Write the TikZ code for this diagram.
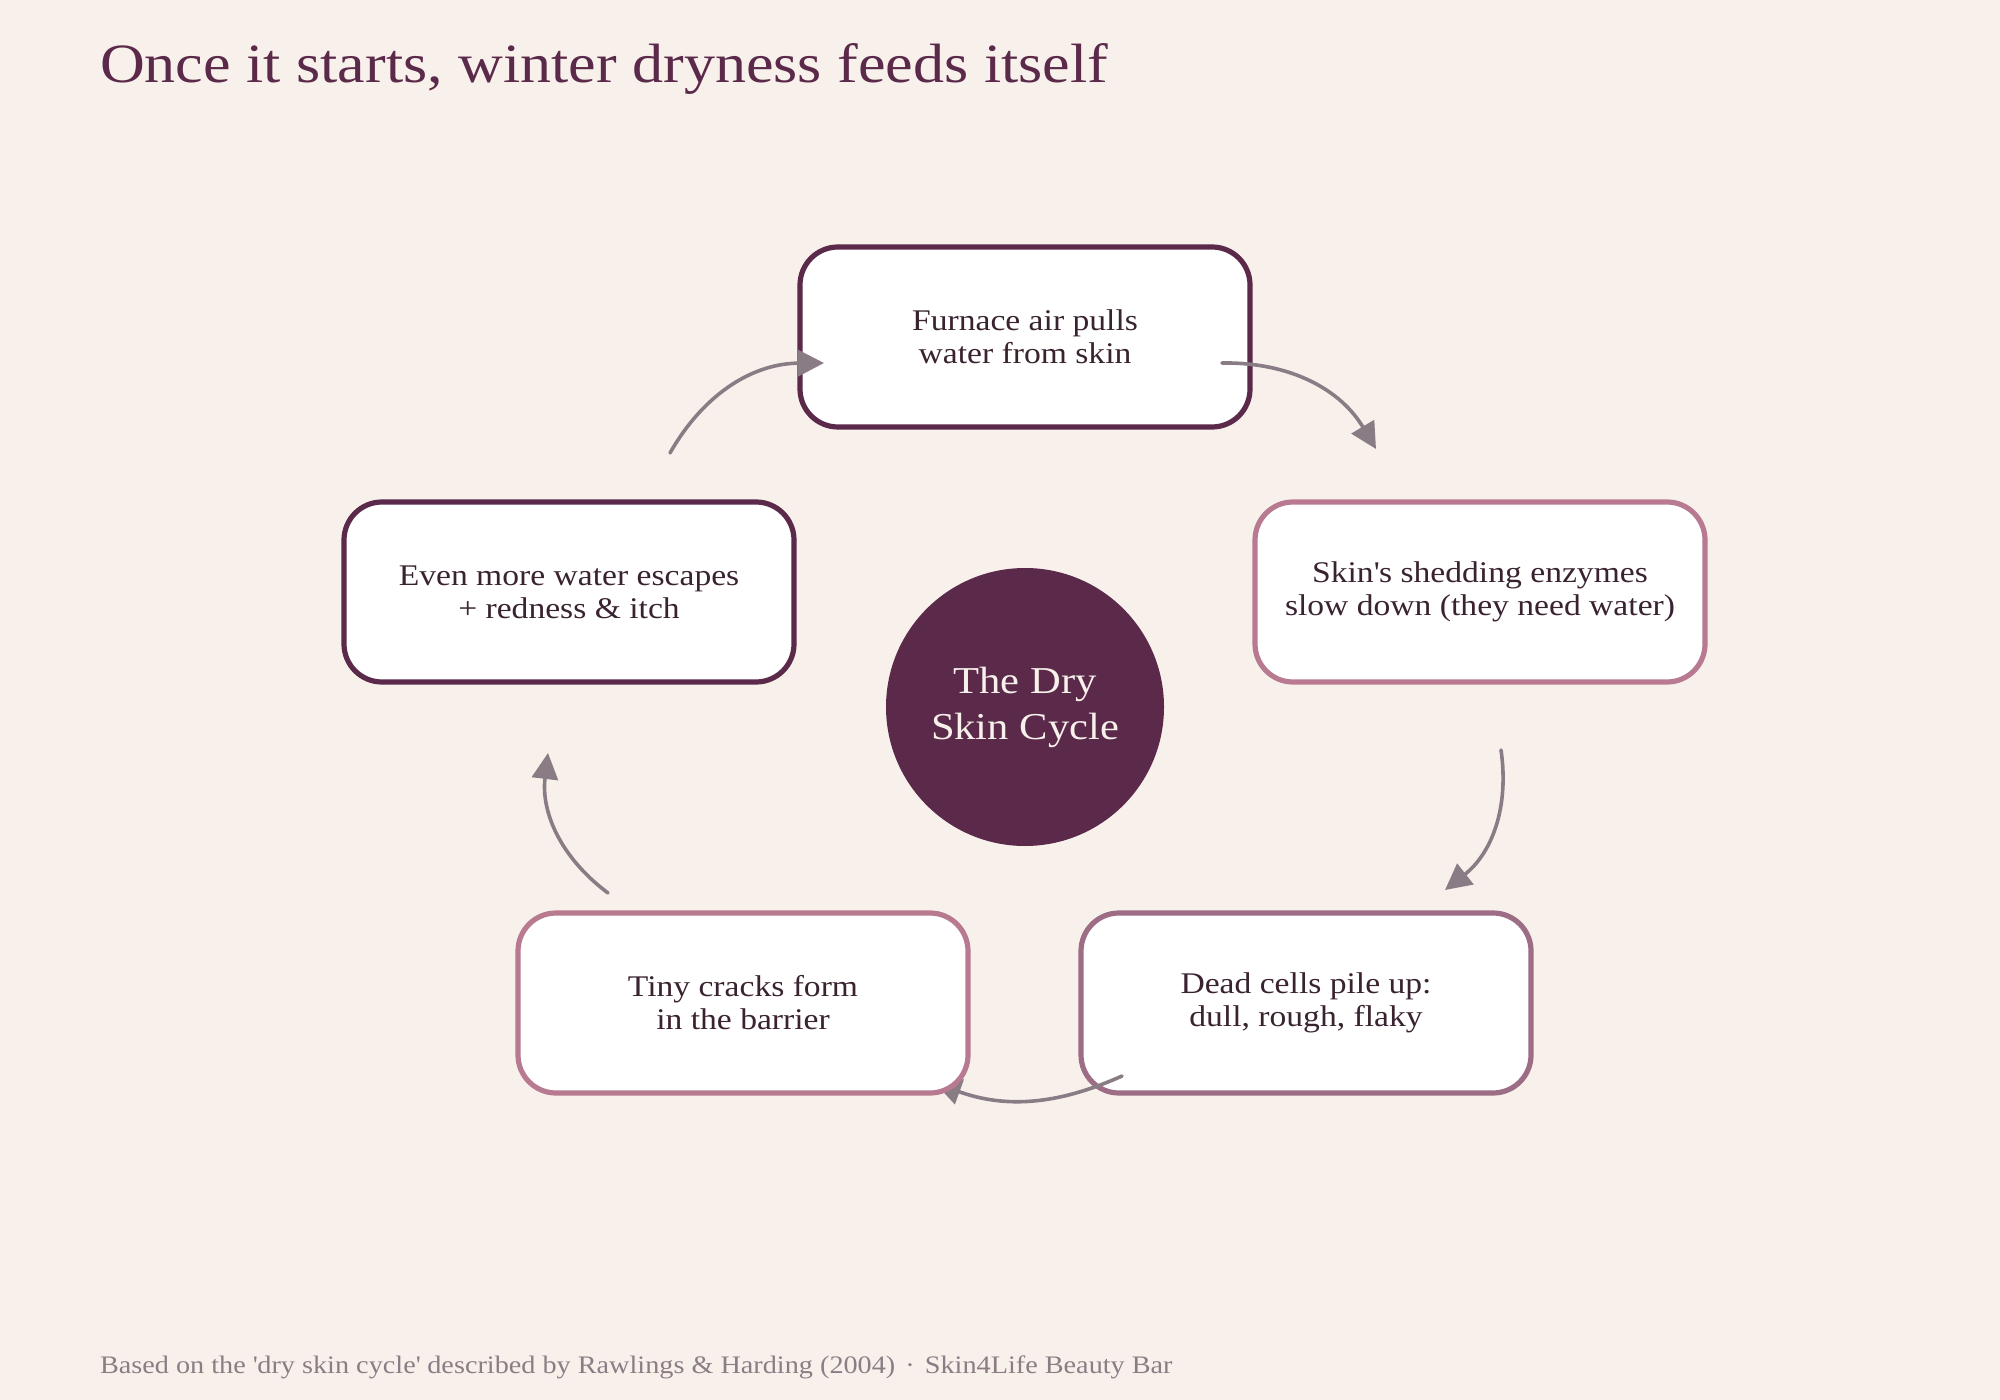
\documentclass[tikz,border=0pt]{standalone}
\usepackage{fontspec}
\setmainfont{Liberation Serif}[FakeStretch=1.12]
\usetikzlibrary{arrows.meta,shapes,positioning}
\definecolor{paper}{HTML}{F8F1EB}
\definecolor{plum}{HTML}{5B2949}
\definecolor{rose}{HTML}{B87A90}
\definecolor{mauve}{HTML}{9D6C85}
\definecolor{ink}{HTML}{3A2330}
\definecolor{arrowgray}{HTML}{8A7C85}
\definecolor{notegray}{HTML}{8C7D85}
\tikzset{stage/.style={shape=rectangle, rounded corners=19pt, draw, line width=2.6pt,
    fill=white, minimum width=225pt, minimum height=90pt, align=center, text=ink,
    font=\fontsize{15}{16.5}\selectfont}}
\tikzset{hub/.style={shape=circle, fill=plum, minimum size=139pt, inner sep=0pt,
    align=center, text=paper, font=\fontsize{19}{23}\selectfont}}
\tikzset{loop/.style={-{Triangle[length=13pt,width=13pt]}, draw=arrowgray,
    line width=1.8pt, line cap=round, bend left=30}}

\begin{document}
\begin{tikzpicture}[x=.5pt, y=-.5pt]
    \fill[paper] (0,0) rectangle (2000,1400);
    \useasboundingbox (0,0) rectangle (2000,1400);
    \node[anchor=base west, text=plum, font=\fontsize{27.7}{32}\selectfont] (title)
        at (93,83) {Once it starts, winter dryness feeds itself};
    \node[hub] (hub) at (1025,707) {The Dry\\Skin Cycle};
    % arrow ends
    \coordinate (a1) at (1222,363);  \coordinate (b1) at (1376,449);
    \coordinate (a2) at (1501,750);  \coordinate (b2) at (1445,890);
    \coordinate (a3) at (1122,1076); \coordinate (b3) at (935,1083);
    \coordinate (a4) at (608,893);   \coordinate (b4) at (548,753);
    \coordinate (a5) at (670,453);   \coordinate (b5) at (824,363);
    % stages, clockwise from the top
    \node[stage, draw=plum] (furnace) at (1025,337) {Furnace air pulls\\water from skin};
    \draw[loop] (a1) to (b1);
    \node[stage, draw=rose] (enzymes) at (1480,592) {Skin\textquotesingle s shedding enzymes\\slow down (they need water)};
    \draw[loop] (a2) to (b2);
    \node[stage, draw=mauve] (cells) at (1306,1003) {Dead cells pile up:\\dull, rough, flaky};
    \draw[loop, bend left=22] (a3) to (b3);
    \node[stage, draw=rose] (cracks) at (743,1003) {Tiny cracks form\\in the barrier};
    \draw[loop] (a4) to (b4);
    \node[stage, draw=plum] (escape) at (569,592) {Even more water escapes\\+ redness \& itch};
    \draw[loop] (a5) to (b5);
    \node[anchor=base west, text=notegray, font=\fontsize{12.6}{15}\selectfont] (note)
        at (93,1373) {Based on the \textquotesingle dry skin cycle\textquotesingle\ described by Rawlings \& Harding (2004)\hspace{0.4em}·\hspace{0.4em}Skin4Life Beauty Bar};
\end{tikzpicture}
\end{document}
